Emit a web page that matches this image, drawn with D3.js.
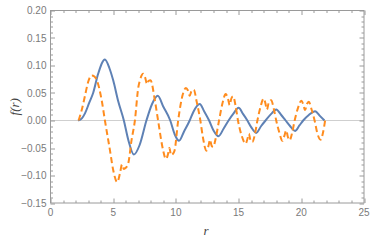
<!DOCTYPE html>
<html>
<head>
<meta charset="utf-8">
<script src="https://cdn.jsdelivr.net/npm/d3@7"></script>
<style>
  body { margin: 0; background: #fff; }
  .tick-label { font-family: "Liberation Sans", "DejaVu Sans", sans-serif; font-size: 10px; fill: #7a7a7a; }
  .axis-title { font-family: "Liberation Serif", "DejaVu Serif", serif; font-style: italic; font-size: 13px; fill: #444; }
</style>
</head>
<body>
<div id="chart"></div>
<script>
// data
var blueR = [2.2, 2.5, 2.75, 3.1, 3.4, 3.8, 4.34, 4.7, 5.0, 5.4, 5.85, 6.2, 6.65, 7.1, 7.65, 8.1, 8.55, 9.0, 9.55, 9.9,
  10.25, 10.65, 11.1, 11.4, 11.9, 12.25, 12.65, 13.0, 13.4, 13.8, 14.2, 14.6, 15.0, 15.35, 15.7, 16.0, 16.4, 16.8,
  17.15, 17.6, 18.0, 18.4, 18.75, 19.1, 19.5, 19.85, 20.15, 20.6, 21.1, 21.5, 21.85];
var blueF = [0, 0.004, 0.013, 0.033, 0.05, 0.085, 0.111, 0.095, 0.073, 0.035, 0, -0.035, -0.062, -0.045, 0, 0.03, 0.045, 0.025, 0, -0.025,
  -0.037, -0.02, 0, 0.016, 0.03, 0.017, 0, -0.018, -0.0285, -0.015, 0, 0.013, 0.023, 0.012, 0, -0.012, -0.0225, -0.01,
  0, 0.012, 0.02, 0.01, 0, -0.01, -0.019, -0.009, 0, 0.01, 0.017, 0.008, 0];

var orangeR = [2.24, 2.5, 2.75, 3.0, 3.3, 3.5, 3.68, 4.08, 4.34, 4.74, 5.0, 5.32, 5.55, 5.7, 5.85, 6.0, 6.2, 6.46, 6.73,
  7.0, 7.13, 7.39, 7.55, 7.7, 7.82, 7.98, 8.32, 8.58, 8.98, 9.2, 9.35, 9.48, 9.62, 9.78, 9.9, 10.18, 10.57, 10.8, 10.95,
  11.1, 11.25, 11.43, 11.65, 11.95, 12.15, 12.43, 12.6, 12.72, 12.85, 12.98, 13.15, 13.44, 13.7, 13.97, 14.15, 14.29,
  14.42, 14.56, 14.75, 14.95, 15.25, 15.56, 15.7, 15.82, 15.95, 16.1, 16.3, 16.5, 16.75, 17.0, 17.13, 17.26, 17.42, 17.6,
  17.8, 18.0, 18.25, 18.49, 18.65, 18.8, 18.93, 19.07, 19.27, 19.47, 19.75, 20.0, 20.15, 20.3, 20.45, 20.6, 20.82, 21.06,
  21.3, 21.54, 21.75, 21.9];
var orangeF = [0, 0.02, 0.045, 0.07, 0.082, 0.08, 0.074, 0.037, 0, -0.054, -0.09, -0.112, -0.095, -0.08, -0.088, -0.086, -0.078, -0.036, 0,
  0.06, 0.073, 0.085, 0.078, 0.066, 0.072, 0.073, 0.037, 0, -0.054, -0.07, -0.063, -0.05, -0.063, -0.06, -0.054, 0, 0.049, 0.059, 0.055,
  0.045, 0.054, 0.056, 0.035, 0, -0.03, -0.055, -0.046, -0.035, -0.046, -0.048, -0.035, 0, 0.03, 0.048, 0.04, 0.028,
  0.04, 0.044, 0.028, 0, -0.028, -0.042, -0.034, -0.024, -0.036, -0.039, -0.025, 0, 0.025, 0.04, 0.032, 0.02, 0.034, 0.037,
  0.022, 0, -0.022, -0.037, -0.028, -0.018, -0.03, -0.036, -0.022, 0, 0.024, 0.036, 0.03, 0.019, 0.03, 0.034, 0.02, 0,
  -0.025, -0.035, -0.02, 0];

var xTicks = [0, 5, 10, 15, 20, 25];
var yTicks = [-0.15, -0.10, -0.05, 0.00, 0.05, 0.10, 0.15, 0.20];

var svgWidth = 374;
var svgHeight = 244;
var margin = { top: 10.5, right: 10, bottom: 41, left: 50.5 };
var width = svgWidth - margin.left - margin.right;
var height = svgHeight - margin.top - margin.bottom;

var svg = d3.select("#chart").append("svg").attr("width", svgWidth).attr("height", svgHeight);
var g = svg.append("g").attr("transform", `translate(${margin.left}, ${margin.top})`);

var x = d3.scaleLinear().domain([0, 25]).range([0, width]);
var y = d3.scaleLinear().domain([-0.15, 0.20]).range([height, 0]);

// zero line
g.append("line").attr("x1", 0).attr("x2", width).attr("y1", y(0)).attr("y2", y(0))
  .attr("stroke", "#cfcfcf").attr("stroke-width", 1);

// frame ticks (inside, on all four sides)
var frameCol = "#9a9a9a";
var xMinor = d3.range(0, 25.01, 1);
var yMinor = d3.range(-15, 20.01, 1).map(d => d / 100);
var tk = g.append("g").attr("stroke", frameCol).attr("stroke-width", 1);
xMinor.forEach(function(v) {
  var len = (v % 5 === 0) ? 4.5 : 2.5;
  var px = Math.round(x(v)) + 0.5;
  tk.append("line").attr("x1", px).attr("x2", px).attr("y1", height).attr("y2", height - len);
  tk.append("line").attr("x1", px).attr("x2", px).attr("y1", 0).attr("y2", len);
});
yMinor.forEach(function(v) {
  var major = Math.abs(Math.round(v * 100) % 5) === 0;
  var len = major ? 4.5 : 2.5;
  var py = Math.round(y(v)) + 0.5;
  tk.append("line").attr("x1", 0).attr("x2", len).attr("y1", py).attr("y2", py);
  tk.append("line").attr("x1", width).attr("x2", width - len).attr("y1", py).attr("y2", py);
});

// frame
g.append("rect").attr("x", 0).attr("y", 0).attr("width", width).attr("height", height)
  .attr("fill", "none").attr("stroke", frameCol).attr("stroke-width", 1);

// tick labels
g.selectAll(".xl").data(xTicks).enter().append("text").attr("class", "tick-label")
  .attr("x", d => x(d)).attr("y", height + 13).attr("text-anchor", "middle").text(d => d);
g.selectAll(".yl").data(yTicks).enter().append("text").attr("class", "tick-label")
  .attr("x", -4).attr("y", d => y(d) + 3.5).attr("text-anchor", "end")
  .text(d => d3.format(".2f")(d).replace("-", "\u2212"));

// curves
var line = d3.line().x(d => x(d[0])).y(d => y(d[1])).curve(d3.curveMonotoneX);
var blue = blueR.map((r, i) => [r, blueF[i]]);
var orange = orangeR.map((r, i) => [r, orangeF[i]]);

g.append("path").datum(blue).attr("d", line).attr("fill", "none")
  .attr("stroke", "#5e81b5").attr("stroke-width", 2);
g.append("path").datum(orange).attr("d", line).attr("fill", "none")
  .attr("stroke", "#ff8c1e").attr("stroke-width", 2).attr("stroke-dasharray", "6,3.5");

// axis titles
g.append("text").attr("class", "axis-title").attr("text-anchor", "middle")
  .attr("transform", `translate(${-32}, ${y(0.025)}) rotate(-90)`).text("f(r)");
g.append("text").attr("class", "axis-title").attr("text-anchor", "middle")
  .attr("x", x(12.4)).attr("y", height + 32).text("r");
</script>
</body>
</html>
